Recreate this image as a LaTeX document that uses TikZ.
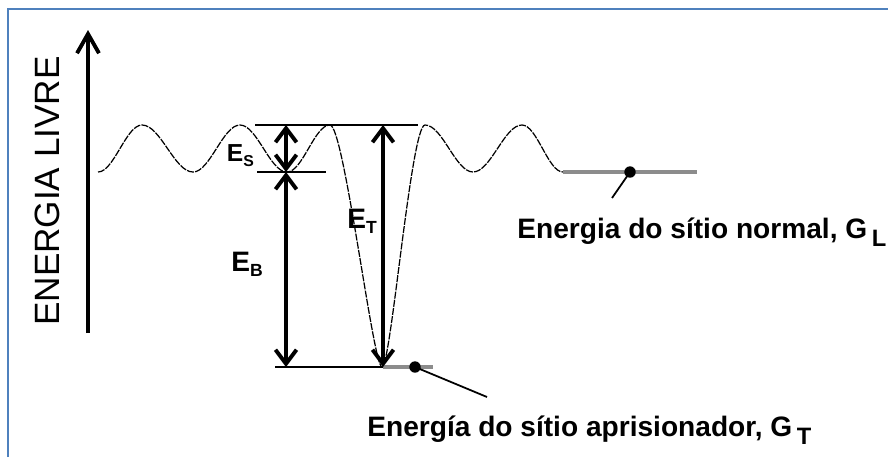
\documentclass[tikz,border=0pt]{standalone}
\usepackage{fontspec}
\setmainfont{Liberation Sans}
\usetikzlibrary{arrows.meta}
\definecolor{frameblue}{HTML}{4F81BD}
\definecolor{sitegray}{HTML}{8C8C8C}
\newcommand{\esub}[3]{#1\raisebox{-0.1cm}{\fontsize{#3}{#3}\selectfont #2}}
\newcommand{\gsub}[1]{G\,\raisebox{-0.16cm}{\fontsize{13.5}{13.5}\selectfont #1}}

\begin{document}
\begin{tikzpicture}[x=0.02cm,y=-0.02cm,
    wave/.style={line width=0.7pt,dash pattern=on 4pt off 0.7pt},
    level/.style={line width=1pt},
    sitelevel/.style={line width=1.8pt,color=sitegray},
    gaparrow/.style={line width=2.2pt,{Straight Barb[length=8pt,width=12pt]}-{Straight Barb[length=8pt,width=12pt]}},
    dot/.style={circle,fill=black,inner sep=0pt,minimum size=6.5pt},
    leader/.style={line width=1pt},
    lbl/.style={font=\fontsize{16}{16}\selectfont\bfseries,inner sep=0pt,anchor=base west},
    site/.style={font=\fontsize{16}{16}\selectfont\bfseries,inner sep=0pt,anchor=base west}]

  \useasboundingbox (0,0) rectangle (888,457);
  \draw[frameblue,line width=1.3pt] (8,457) -- (8,9) -- (888,9);

  % free energy axis
  \coordinate (axis0) at (88,333);
  \coordinate (axis1) at (88,30);
  \draw[line width=2.2pt,-{Straight Barb[length=11pt,width=12.5pt]}] (axis0) -- (axis1);
  \node[rotate=90,font=\fontsize{20}{20}\selectfont,inner sep=0pt] (ylab) at (47,191) {ENERGIA LIVRE};

  % energy landscape
  \draw[wave] (98,172) cos (120,148.5) sin (142,125) cos (167.5,148.5) sin (193,172)
    cos (216.5,148.5) sin (240,125) cos (263.5,148.5) sin (287,172)
    cos (308.5,148.5) sin (330,125)
    .. controls (344,125) and (373,367) .. (382,367)
    .. controls (391,367) and (411,125) .. (425,125)
    cos (449,148.5) sin (473,172) cos (497.5,148.5) sin (522,125)
    cos (542.5,148.5) sin (563,172);

  % levels
  \coordinate (top0) at (255,125);
  \coordinate (top1) at (418,125);
  \coordinate (mid0) at (257,172);
  \coordinate (mid1) at (326,172);
  \coordinate (bot0) at (275,367);
  \coordinate (bot1) at (383,367);
  \coordinate (bot2) at (433,367);
  \coordinate (norm0) at (563,172);
  \coordinate (norm1) at (697,172);
  \draw[level] (top0) -- (top1);
  \draw[level] (mid0) -- (mid1);
  \draw[level] (bot0) -- (bot1);
  \draw[sitelevel] (bot1) -- (bot2);
  \draw[sitelevel] (norm0) -- (norm1);

  % energy gaps
  \coordinate (es0) at (286,125);
  \coordinate (es1) at (286,172);
  \coordinate (eb1) at (286,367);
  \coordinate (et0) at (383,125);
  \coordinate (et1) at (383,367);
  \draw[gaparrow] (es0) -- (es1);
  \draw[gaparrow] (es1) -- (eb1);
  \draw[gaparrow] (et0) -- (et1);
  \node[lbl,font=\fontsize{14}{14}\selectfont\bfseries,fill=white,inner sep=1.5pt] (eslab) at (224,161) {\esub{E}{S}{9}};
  \node[lbl] (etlab) at (347,228) {\esub{E}{T}{10}};
  \node[lbl] (eblab) at (231,271) {\esub{E}{B}{10}};

  % sites
  \node[dot] (gl) at (630,172) {};
  \node[dot] (gt) at (415,367) {};
  \coordinate (glend) at (612,198);
  \coordinate (gtend) at (487,397);
  \draw[leader] (gl.center) -- (glend);
  \draw[leader] (gt.center) -- (gtend);
  \node[site] (gltext) at (517,238) {Energia do sítio normal, \gsub{L}};
  \node[site] (gttext) at (367,436) {Energía do sítio aprisionador, \gsub{T}};
\end{tikzpicture}
\end{document}
